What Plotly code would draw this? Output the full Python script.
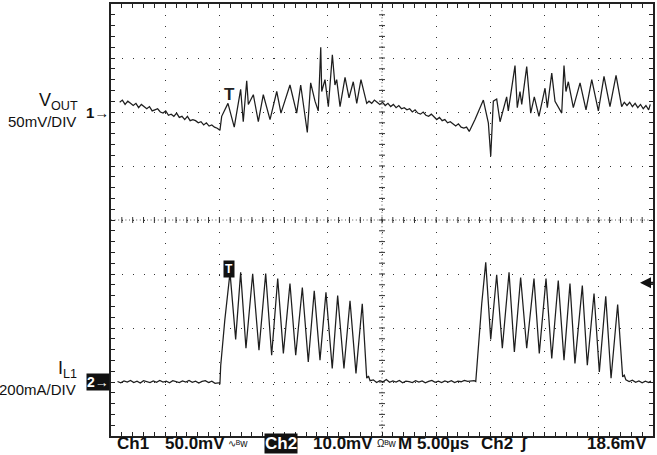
import plotly.graph_objects as go

# ---------------- data (time in µs, Ch1 in mV, Ch2 in mA) ----------------
ch1_time_us = [
    0.8, 1.05, 1.3, 1.55, 1.8, 2.05, 2.3, 2.55, 2.8, 3.05, 3.3, 3.55, 3.8, 4.05, 4.3, 4.55, 4.8, 5.05, 5.3,
    5.55, 5.8, 6.05, 6.3, 6.55, 6.8, 7.05, 7.3, 7.55, 7.8, 8.05, 8.3, 8.55, 8.8, 9.05, 9.3, 9.55, 9.8, 10.05,
    10.21, 10.79, 11.37, 11.96, 12.20, 12.52, 12.67, 13.13, 13.59, 14.05, 14.67, 15.29, 15.68, 16.51, 17.13,
    17.50, 18.11, 18.42, 18.82, 19.12, 19.35, 19.44, 19.74, 20.05, 20.42, 20.66, 20.82, 21.13, 21.59, 21.96,
    22.35, 22.67, 23.06, 23.59,
    23.8, 24.05, 24.3, 24.55, 24.8, 25.05, 25.3, 25.55, 25.8, 26.05, 26.3, 26.55, 26.8, 27.05, 27.3, 27.55,
    27.8, 28.05, 28.3, 28.55, 28.8, 29.05, 29.3, 29.55, 29.8, 30.05, 30.3, 30.55, 30.8, 31.05, 31.3, 31.55,
    31.8, 32.05, 32.3, 32.55, 32.8, 33.05,
    33.58, 34.35, 34.81, 35.03, 35.27, 35.58, 35.89, 36.50, 36.65, 37.27, 37.48, 37.73, 37.89, 38.35, 38.72,
    39.05, 39.48, 40.04, 40.25, 40.66, 40.96, 41.58, 41.79, 41.97, 42.19, 42.65, 43.27, 43.82, 44.35, 44.96,
    45.48, 46.03, 46.59, 47.11,
    47.35, 47.6, 47.85, 48.1, 48.35, 48.6, 48.85, 49.1, 49.35, 49.6, 49.75,
]
ch1_vout_mv = [
    9, 11, 7, 10, 8, 6, 8, 4, 7, 5, 3, 5, 1, 2, 3, 0, -1, 1, -3, -2, -4, -1, -5, -4, -7, -4, -8, -7, -8, -10,
    -9, -12, -10, -13, -12, -14, -15, -17,
    -4, 8, -14, 21, -9, 29, 7, 16, -9, 16, -7, 19, -1, 25, -1, 25, -19, 27, 10, 1, 60, 19, 30, 5, 53, 25, 30,
    5, 32, 13, 28, 8, 30, 8,
    10, 8, 11, 9, 7, 9, 6, 8, 5, 7, 4, 6, 3, 4, 2, 3, 0, 2, -1, -2, 0, -3, -4, -2, -5, -7, -5, -8, -7, -10,
    -9, -11, -13, -11, -14, -15, -14, -18,
    -7, 11, -10, -41, 10, 12, -9, 14, 1, 43, 4, 19, 7, 42, -1, 14, -4, 22, 4, 36, 10, -1, 43, 19, 28, 4, 27,
    2, 30, 1, 33, 5, 34, 5,
    9, 6, 9, 5, 8, 4, 7, 3, 6, 2, 7,
]

ch2_time_us = [
    0.6, 0.9, 1.2, 1.5, 1.8, 2.1, 2.4, 2.7, 3.0, 3.3, 3.6, 3.9, 4.2, 4.5, 4.8, 5.1, 5.4, 5.7, 6.0, 6.3, 6.6,
    6.9, 7.2, 7.5, 7.8, 8.1, 8.4, 8.7, 9.0, 9.3, 9.6, 9.9, 10.05,
    10.12, 10.5, 10.98, 11.50, 11.96, 12.45, 13.07, 13.65, 14.27, 14.82, 15.38, 15.90, 16.51, 17.04, 17.65,
    18.20, 18.75, 19.28, 19.83, 20.41, 20.91, 21.49, 22.05, 22.60, 23.18, 23.59, 23.75, 23.9,
    24.2, 24.5, 24.8, 25.1, 25.4, 25.7, 26.0, 26.3, 26.6, 26.9, 27.2, 27.5, 27.8, 28.1, 28.4, 28.7, 29.0,
    29.3, 29.6, 29.9, 30.2, 30.5, 30.8, 31.1, 31.4, 31.7, 32.0, 32.3, 32.6, 32.9, 33.2, 33.5, 33.65,
    33.75, 34.2, 34.57, 35.03, 35.58, 36.10, 36.72, 37.21, 37.79, 38.35, 39.02, 39.51, 40.13, 40.66, 41.26,
    41.79, 42.34, 42.80, 43.48, 43.94, 44.56, 45.05, 45.64, 46.13, 46.74, 47.20,
    47.35, 47.5, 47.8, 48.1, 48.4, 48.7, 49.0, 49.3, 49.6, 49.8,
]
ch2_il1_ma = [
    2, -3, 4, 0, 6, -2, 3, -4, 5, 1, -2, 4, -1, 6, 0, 3, -3, 5, 1, -2, 4, 0, 6, -1, 3, -4, 2, 5, -2, 3, -5,
    -3, -6,
    60, 230, 405, 158, 406, 125, 401, 118, 402, 99, 383, 106, 365, 99, 350, 74, 338, 81, 332, 50, 320, 50,
    301, 32, 290, 14, 22, 5,
    8, -2, 5, 1, 9, -1, 4, 0, 6, -3, 3, 1, -2, 5, 0, 4, -3, 2, 6, -1, 3, -2, 4, 0, 5, -2, 3, 1, 6, 2, 4, 5, 2,
    60, 290, 443, 158, 397, 125, 406, 111, 387, 125, 383, 106, 383, 87, 376, 81, 365, 69, 357, 62, 328, 37,
    317, 14, 287, 19,
    25, 8, 2, 7, -1, 4, -3, 3, -2, 4,
]

# scope settings
time_per_div_us = 5
ch1_per_div_mv = 50
ch2_per_div_ma = 200
n_xdiv, n_ydiv = 10, 8
ch1_ref_div = 6     # ch1 marker position (divisions from bottom)
ch2_ref_div = 1     # ch2 marker position
trigger_level_ma = 368

x_range = [0, n_xdiv * time_per_div_us]
y1_range = [-ch1_ref_div * ch1_per_div_mv, (n_ydiv - ch1_ref_div) * ch1_per_div_mv]
y2_range = [-ch2_ref_div * ch2_per_div_ma, (n_ydiv - ch2_ref_div) * ch2_per_div_ma]

W, H = 657, 455
L, R, T, B = 111, 4, 2, 19
PW, PH = W - L - R, H - T - B


def px(xp):
    return (xp - L) / PW


def py(yp):
    return (H - B - yp) / PH


trace_color = "#1e1e1e"
fig = go.Figure()
fig.add_trace(go.Scatter(x=ch1_time_us, y=ch1_vout_mv, mode="lines",
                         line=dict(color=trace_color, width=1.25), yaxis="y", hoverinfo="skip"))
fig.add_trace(go.Scatter(x=ch2_time_us, y=ch2_il1_ma, mode="lines",
                         line=dict(color=trace_color, width=1.25), yaxis="y2", hoverinfo="skip"))

grid_dash_x = "1px,%.2fpx" % (PH / n_ydiv / 5 - 1)
grid_dash_y = "1px,%.2fpx" % (PW / n_xdiv / 5 - 1)

fig.update_layout(
    width=W, height=H, margin=dict(l=L, r=R, t=T, b=B),
    paper_bgcolor="white", plot_bgcolor="white", showlegend=False,
    xaxis=dict(range=x_range, dtick=time_per_div_us, tick0=0, showgrid=True, gridcolor="#333",
               gridwidth=1, griddash=grid_dash_x, zeroline=False, showticklabels=False,
               ticks="inside", ticklen=4, tickcolor="#222", tickwidth=1,
               minor=dict(dtick=time_per_div_us / 5, ticks="inside", ticklen=4, tickcolor="#222",
                          showgrid=False),
               showline=True, linecolor="#222", linewidth=2, mirror="allticks", fixedrange=True),
    yaxis=dict(range=y1_range, dtick=ch1_per_div_mv, tick0=0, showgrid=True, gridcolor="#333",
               gridwidth=1, griddash=grid_dash_y, zeroline=False, showticklabels=False,
               ticks="inside", ticklen=4, tickcolor="#222", tickwidth=1,
               minor=dict(dtick=ch1_per_div_mv / 5, ticks="inside", ticklen=4, tickcolor="#222",
                          showgrid=False),
               showline=True, linecolor="#222", linewidth=2, mirror="allticks", fixedrange=True),
    yaxis2=dict(range=y2_range, overlaying="y", showgrid=False, zeroline=False, showticklabels=False,
                showline=False, ticks="", fixedrange=True),
)

# centre graticule lines with 1/5-division ticks
xc = sum(x_range) / 2
yc = sum(y1_range) / 2
shapes = [
    dict(type="line", xref="x", yref="y", x0=x_range[0], x1=x_range[1], y0=yc, y1=yc,
         line=dict(color="#555", width=1, dash="1px,2.6px"), layer="below"),
    dict(type="line", xref="x", yref="y", x0=xc, x1=xc, y0=y1_range[0], y1=y1_range[1],
         line=dict(color="#555", width=1, dash="1px,2.6px"), layer="below"),
]
for k in range(1, n_xdiv * 5):
    xv = x_range[0] + k * time_per_div_us / 5
    shapes.append(dict(type="line", xref="x", yref="y", x0=xv, x1=xv, ysizemode="pixel", yanchor=yc,
                       y0=-3, y1=3, line=dict(color="#333", width=1), layer="below"))
for k in range(1, n_ydiv * 5):
    yv = y1_range[0] + k * ch1_per_div_mv / 5
    shapes.append(dict(type="line", xref="x", yref="y", y0=yv, y1=yv, xsizemode="pixel", xanchor=xc,
                       x0=-3, x1=3, line=dict(color="#333", width=1), layer="below"))
fig.update_layout(shapes=shapes)

label_font = "Liberation Sans, Arial, sans-serif"
bot_font = "Liberation Sans, Arial, sans-serif"
ann = []
# left side labels
ann.append(dict(text="V<sub>OUT</sub>", xref="paper", yref="paper", x=px(80), y=py(100),
                xanchor="right", yanchor="middle", showarrow=False,
                font=dict(family=label_font, size=18, color="#111")))
ann.append(dict(text="50mV/DIV", xref="paper", yref="paper", x=px(78), y=py(120),
                xanchor="right", yanchor="middle", showarrow=False,
                font=dict(family=label_font, size=15, color="#111")))
ann.append(dict(text="I<sub>L1</sub>", xref="paper", yref="paper", x=px(79), y=py(369),
                xanchor="right", yanchor="middle", showarrow=False,
                font=dict(family=label_font, size=18, color="#111")))
ann.append(dict(text="200mA/DIV", xref="paper", yref="paper", x=px(78), y=py(389),
                xanchor="right", yanchor="middle", showarrow=False,
                font=dict(family=label_font, size=15, color="#111")))
# channel markers
ann.append(dict(text="<b>1→</b>", xref="paper", yref="y", x=px(111), y=0,
                xanchor="right", yanchor="middle", showarrow=False,
                font=dict(family=bot_font, size=15, color="#111")))
ann.append(dict(text="<b>2→</b>", xref="paper", yref="y2", x=px(110), y=0,
                xanchor="right", yanchor="middle", showarrow=False, bgcolor="#111", borderpad=0,
                font=dict(family=bot_font, size=14, color="white")))
# trigger markers
ann.append(dict(text="<b>T</b>", xref="x", yref="y", x=10.9, y=27, xanchor="center", yanchor="top",
                showarrow=False, font=dict(family=bot_font, size=17, color="#222")))
ann.append(dict(text="<b>T</b>", xref="x", yref="y2", x=10.85, y=419, xanchor="center",
                yanchor="middle", showarrow=False, bgcolor="#111", borderpad=1,
                font=dict(family=bot_font, size=12, color="white")))
ann.append(dict(text="", xref="paper", yref="y2", x=px(640), y=trigger_level_ma, showarrow=True,
                ax=15, ay=0, arrowhead=2, arrowsize=1.1, arrowwidth=2, arrowcolor="#111"))
# bottom status line
yb = py(444)
bottom_items = [
    ("<b>Ch1</b>", 115, "left", 17, None),
    ("<b>50.0mV</b>", 163, "left", 17, None),
    ("∿ᴮw", 226, "left", 10, None),
    ("<b>Ch2</b>", 264, "left", 17, "#111"),
    ("<b>10.0mV</b>", 311, "left", 17, None),
    ("Ωᴮw", 375, "left", 10, None),
    ("<b>M 5.00µs</b>", 396, "left", 17, None),
    ("<b>Ch2</b>", 479, "left", 17, None),
    ("<b>ʃ</b>", 518, "left", 17, None),
    ("<b>18.6mV</b>", 649, "right", 17, None),
]
for txt, xp, anchor, size, bg in bottom_items:
    d = dict(text=txt, xref="paper", yref="paper", x=px(xp), y=yb, xanchor=anchor, yanchor="middle",
             showarrow=False, font=dict(family=bot_font, size=size, color="white" if bg else "#111"))
    if bg:
        d.update(bgcolor=bg, borderpad=0)
    ann.append(d)
fig.update_layout(annotations=ann)

fig.write_html("out.html", config={"displayModeBar": False},
               post_script="document.body.style.margin='0';document.body.style.padding='0';"
                           "document.body.style.overflow='hidden';")
